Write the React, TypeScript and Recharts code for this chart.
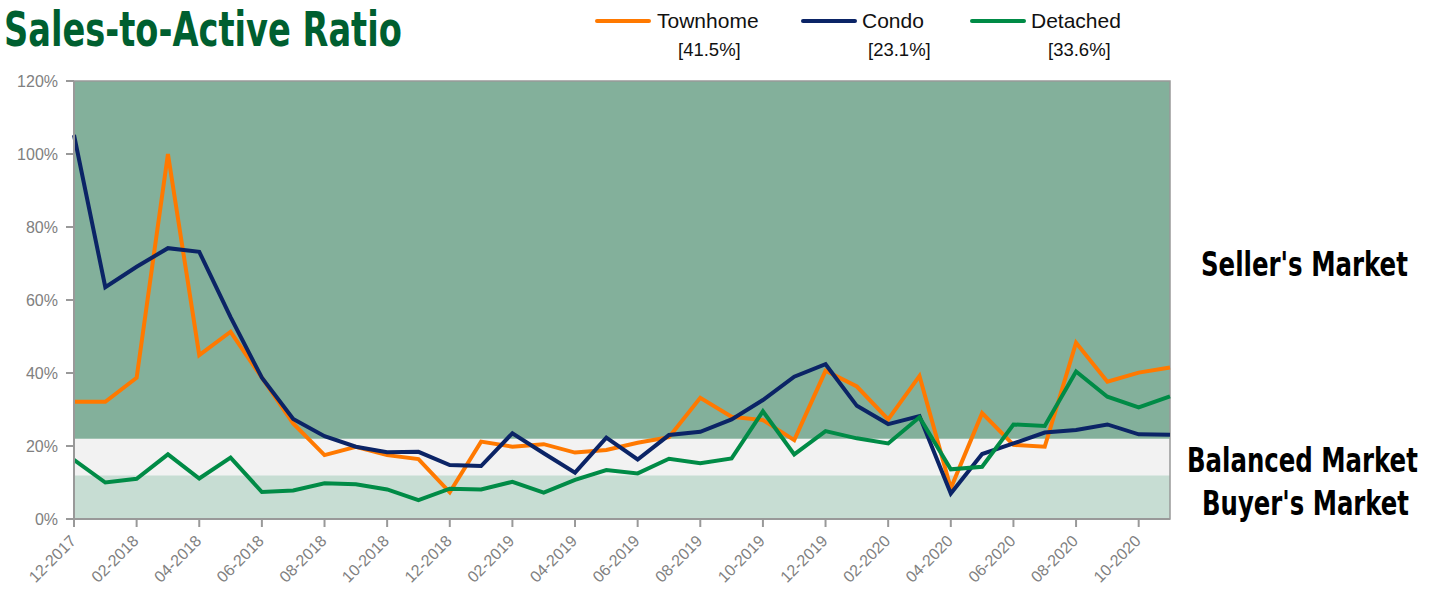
import React, { useLayoutEffect, useRef, useState } from "react";
import { LineChart, Line, XAxis, YAxis, ReferenceArea } from "recharts";

const months: string[] = [
  "12-2017", "01-2018", "02-2018", "03-2018", "04-2018", "05-2018", "06-2018", "07-2018",
  "08-2018", "09-2018", "10-2018", "11-2018", "12-2018", "01-2019", "02-2019", "03-2019",
  "04-2019", "05-2019", "06-2019", "07-2019", "08-2019", "09-2019", "10-2019", "11-2019",
  "12-2019", "01-2020", "02-2020", "03-2020", "04-2020", "05-2020", "06-2020", "07-2020",
  "08-2020", "09-2020", "10-2020", "11-2020",
];

const townhome: number[] = [
  32.1, 32.1, 38.7, 100, 44.9, 51.3, 38.7, 26.2, 17.5, 19.8, 17.5, 16.4,
  7.3, 21.2, 19.8, 20.5, 18.2, 18.9, 20.9, 22.4, 33.2, 28.0, 27.1, 21.6,
  40.6, 36.3, 27.3, 39.2, 8.4, 29.0, 20.3, 19.8, 48.3, 37.6, 40.1, 41.5,
];

const condo: number[] = [
  105.2, 63.5, 69.1, 74.2, 73.2, 55.3, 38.7, 27.4, 22.7, 19.8, 18.3, 18.4,
  14.8, 14.5, 23.5, 18.0, 12.7, 22.3, 16.3, 23.0, 23.9, 27.3, 32.6, 39.0,
  42.4, 31.0, 26.0, 28.2, 7.0, 17.8, 20.7, 23.7, 24.4, 25.9, 23.2, 23.1,
];

const detached: number[] = [
  16.2, 10.0, 11.0, 17.7, 11.1, 16.8, 7.4, 7.8, 9.8, 9.5, 8.1, 5.2,
  8.3, 8.1, 10.2, 7.2, 10.7, 13.4, 12.5, 16.5, 15.3, 16.6, 29.5, 17.7,
  24.1, 22.1, 20.7, 27.9, 13.6, 14.3, 25.9, 25.5, 40.4, 33.5, 30.6, 33.6,
];

const yTicks: number[] = [0, 20, 40, 60, 80, 100, 120];

const data = months.map((m, i) => ({
  month: m,
  townhome: townhome[i],
  condo: condo[i],
  detached: detached[i],
}));

const condensed = "'Liberation Sans Narrow', 'DejaVu Sans Condensed', 'Liberation Sans', sans-serif";
const sans = "'Liberation Sans', Arial, sans-serif";

// squeezes a bold label horizontally to the width it has in the original
const FitText = ({ x, y, width, children, ...rest }: any) => {
  const ref = useRef<SVGTextElement>(null);
  const [s, setS] = useState(1);
  useLayoutEffect(() => {
    if (ref.current) {
      const w = ref.current.getComputedTextLength();
      if (w > 0) setS(width / w);
    }
  }, [width]);
  return (
    <text ref={ref} x={0} y={0} transform={`translate(${x},${y}) scale(${s},1)`} {...rest}>
      {children}
    </text>
  );
};

const XTick = (props: any) => {
  const { x, y, payload } = props;
  return (
    <g transform={`translate(${x + 3},${y + 13})`}>
      <text x={0} y={0} textAnchor="end" transform="rotate(-45)" fill="#808080" fontSize={16} fontFamily={sans}>
        {payload.value}
      </text>
    </g>
  );
};

const legendItems = [
  { name: "Townhome", color: "#ff7900", last: "[41.5%]", lx: 597, tx: 657, vx: 678 },
  { name: "Condo", color: "#0b2466", last: "[23.1%]", lx: 803, tx: 862, vx: 868 },
  { name: "Detached", color: "#008b46", last: "[33.6%]", lx: 972, tx: 1031, vx: 1048 },
];

export default function App() {
  return (
    <div style={{ position: "absolute", left: 0, top: 0, width: 1437, height: 589, background: "#fff" }}>
      <LineChart width={1437} height={589} data={data} margin={{ top: 81, right: 267, bottom: 0, left: 0 }}>
        <XAxis
          dataKey="month"
          interval={1}
          height={70}
          tick={<XTick />}
          tickSize={8}
          stroke="#999"
          strokeWidth={2}
        />
        <YAxis
          domain={[0, 120]}
          ticks={yTicks}
          width={74}
          tickSize={8}
          tickMargin={8}
          tickFormatter={(v) => `${v}%`}
          tick={{ fill: "#808080", fontSize: 16, fontFamily: sans }}
          stroke="#999"
          strokeWidth={2}
        />
        <ReferenceArea y1={0} y2={12} fill="#c7ddd3" fillOpacity={1} stroke="none" />
        <ReferenceArea y1={12} y2={22} fill="#f2f2f2" fillOpacity={1} stroke="none" />
        <ReferenceArea y1={22} y2={120} fill="#83b09b" fillOpacity={1} stroke="none" />
        <ReferenceArea y1={0} y2={120} fill="none" stroke="#999" strokeWidth={1.5} />
        <Line type="linear" dataKey="townhome" stroke="#ff7900" strokeWidth={4} dot={false} isAnimationActive={false} />
        <Line type="linear" dataKey="condo" stroke="#0b2466" strokeWidth={4} dot={false} isAnimationActive={false} />
        <Line type="linear" dataKey="detached" stroke="#008b46" strokeWidth={4} dot={false} isAnimationActive={false} />
      </LineChart>
      <svg width={1437} height={589} style={{ position: "absolute", left: 0, top: 0, pointerEvents: "none" }}>
        <FitText x={4} y={46} width={398} fontSize={48} fontWeight="bold" fill="#005f30" fontFamily={condensed}>
          Sales-to-Active Ratio
        </FitText>
        {legendItems.map((it) => (
          <g key={it.name}>
            <line x1={it.lx} x2={it.lx + 52} y1={21} y2={21} stroke={it.color} strokeWidth={4} strokeLinecap="round" />
            <text x={it.tx} y={28} fontSize={21} fill="#111" fontFamily={sans}>{it.name}</text>
            <text x={it.vx} y={56} fontSize={18.5} fill="#111" fontFamily={sans}>{it.last}</text>
          </g>
        ))}
        <FitText x={1201} y={276} width={207} fontSize={34} fontWeight="bold" fill="#000" fontFamily={condensed}>
          Seller's Market
        </FitText>
        <FitText x={1187} y={472} width={231} fontSize={34} fontWeight="bold" fill="#000" fontFamily={condensed}>
          Balanced Market
        </FitText>
        <FitText x={1202} y={515} width={207} fontSize={34} fontWeight="bold" fill="#000" fontFamily={condensed}>
          Buyer's Market
        </FitText>
      </svg>
    </div>
  );
}
